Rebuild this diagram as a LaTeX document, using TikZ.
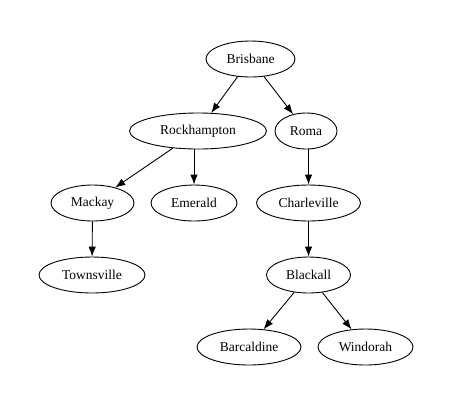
\documentclass[tikz,border=0pt]{standalone}
\usepackage{fontspec}
\setmainfont{Liberation Serif}
\usetikzlibrary{shapes.geometric,arrows.meta}
\begin{document}
\begin{tikzpicture}[x=1bp,y=-1bp,
  town/.style={draw=black,line width=0.9bp,ellipse,inner sep=0pt,
    minimum height=36bp,font=\fontsize{13.5bp}{15bp}\selectfont},
  link/.style={draw=black,line width=0.9bp,-{Latex[length=10bp,width=7.5bp]}}]
  \useasboundingbox[fill=white] (0,0) rectangle (454,404);
  % rank 1
  \node[town,minimum width=89bp]  (brisbane)    at (250.5,59)  {Brisbane};
  % rank 2
  \node[town,minimum width=137bp] (rockhampton) at (198,131)   {Rockhampton};
  \node[town,minimum width=62bp]  (roma)        at (306,131)   {Roma};
  % rank 3
  \node[town,minimum width=83bp]  (mackay)      at (92.5,203)  {Mackay};
  \node[town,minimum width=86bp]  (emerald)     at (194,203)   {Emerald};
  \node[town,minimum width=104bp] (charleville) at (308.5,203) {Charleville};
  % rank 4
  \node[town,minimum width=106bp] (townsville)  at (92,275)    {Townsville};
  \node[town,minimum width=84bp]  (blackall)    at (308.5,275) {Blackall};
  % rank 5
  \node[town,minimum width=104bp] (barcaldine)  at (249,347)   {Barcaldine};
  \node[town,minimum width=95bp]  (windorah)    at (365.5,347) {Windorah};

  % edges
  \draw[link] (brisbane) -- (rockhampton);
  \draw[link] (brisbane) -- (roma);
  \draw[link] (rockhampton) -- (mackay);
  \draw[link] (rockhampton.south -| emerald) -- (emerald);
  \draw[link] (roma.south -| charleville) -- (charleville);
  \draw[link] (mackay) -- (townsville);
  \draw[link] (charleville) -- (blackall);
  \draw[link] (blackall) -- (barcaldine);
  \draw[link] (blackall) -- (windorah);
\end{tikzpicture}
\end{document}
